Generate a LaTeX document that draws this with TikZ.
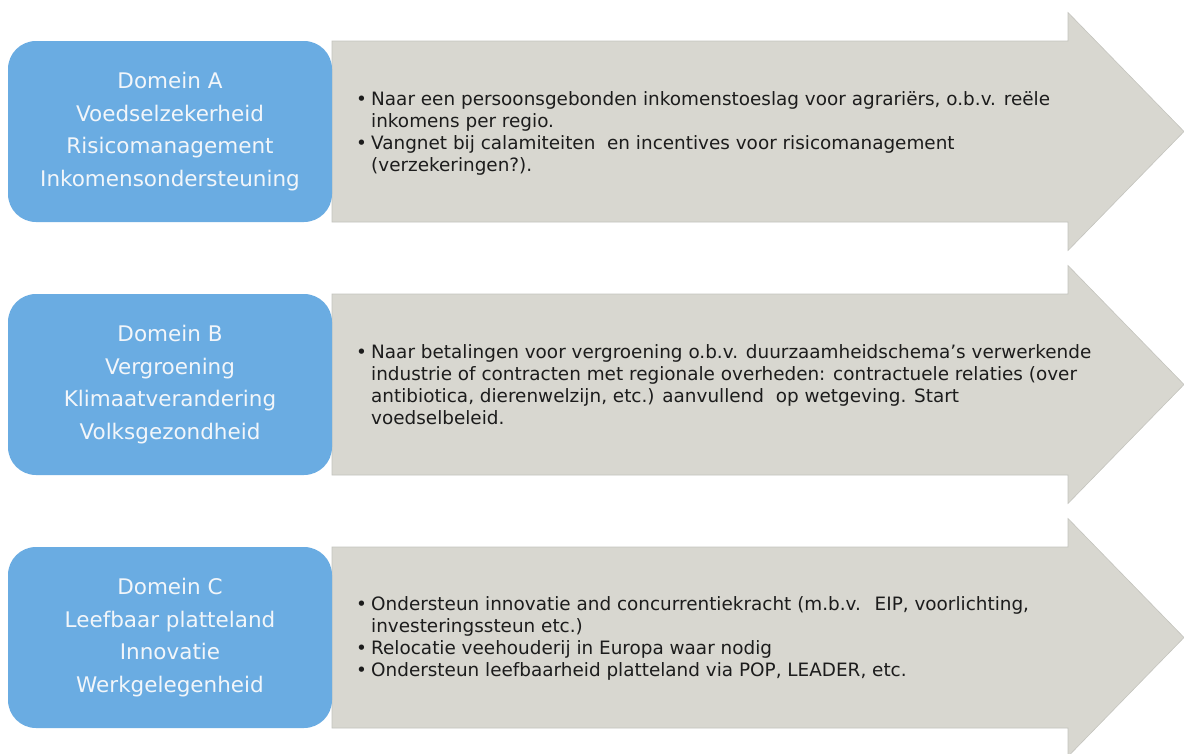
\documentclass[tikz,border=0pt]{standalone}
\usepackage{fontspec}
\setmainfont{DejaVu Sans}
\definecolor{boxblue}{RGB}{106,172,226}
\definecolor{arrgray}{RGB}{216,215,208}
\definecolor{arredge}{RGB}{196,196,190}
\definecolor{txtdark}{RGB}{28,28,28}
\definecolor{txtlight}{RGB}{242,246,250}
\newcommand{\bul}{\makebox[13pt][l]{\hspace*{-2pt}•}}
\newcommand{\ind}{\hspace*{13pt}}
\begin{document}
\begin{tikzpicture}[x=1pt,y=-1pt,
  domainbox/.style={fill=boxblue, rounded corners=28pt, minimum width=324pt, minimum height=181pt,
    inner sep=0pt, text=txtlight, align=center, font=\fontsize{21.5}{32.5}\selectfont},
  arrowbody/.style={fill=arrgray, draw=arredge, line width=0.6pt},
  bullets/.style={text=txtdark, align=left, anchor=west, inner sep=0pt, font=\fontsize{18.4}{22}\selectfont}]
\useasboundingbox (0,0) rectangle (1184,753);
\fill[white] (0,0) rectangle (1184,753);
\foreach \cy/\n in {131.5/a,384.5/b,637.5/c}{
  \coordinate (s\n) at (332,\cy);
  \draw[arrowbody] (332,\cy-90.5) -- (1068,\cy-90.5) -- (1068,\cy-119) -- (1184,\cy)
     -- (1068,\cy+119) -- (1068,\cy+90.5) -- (332,\cy+90.5) -- cycle;
}
\node[domainbox] (da) at (170,131.5) {Domein A\\Voedselzekerheid\\Risicomanagement\\Inkomensondersteuning};
\node[domainbox] (db) at (170,384.5) {Domein B\\Vergroening\\Klimaatverandering\\Volksgezondheid};
\node[domainbox] (dc) at (170,637.5) {Domein C\\Leefbaar platteland\\Innovatie\\Werkgelegenheid};
\node[bullets] (ta) at (358,133) {\bul Naar een persoonsgebonden inkomenstoeslag voor agrariërs, o.b.v. reële\\
  \ind inkomens per regio.\\
  \bul Vangnet bij calamiteiten~ en incentives voor risicomanagement\\
  \ind (verzekeringen?).};
\node[bullets] (tb) at (358,385) {\bul Naar betalingen voor vergroening o.b.v. duurzaamheidschema’s verwerkende\\
  \ind industrie of contracten met regionale overheden: contractuele relaties (over\\
  \ind antibiotica, dierenwelzijn, etc.) aanvullend~ op wetgeving. Start\\
  \ind voedselbeleid.};
\node[bullets] (tc) at (358,638) {\bul Ondersteun innovatie and concurrentiekracht (m.b.v.~ EIP, voorlichting,\\
  \ind investeringssteun etc.)\\
  \bul Relocatie veehouderij in Europa waar nodig\\
  \bul Ondersteun leefbaarheid platteland via POP, LEADER, etc.};
\end{tikzpicture}
\end{document}
